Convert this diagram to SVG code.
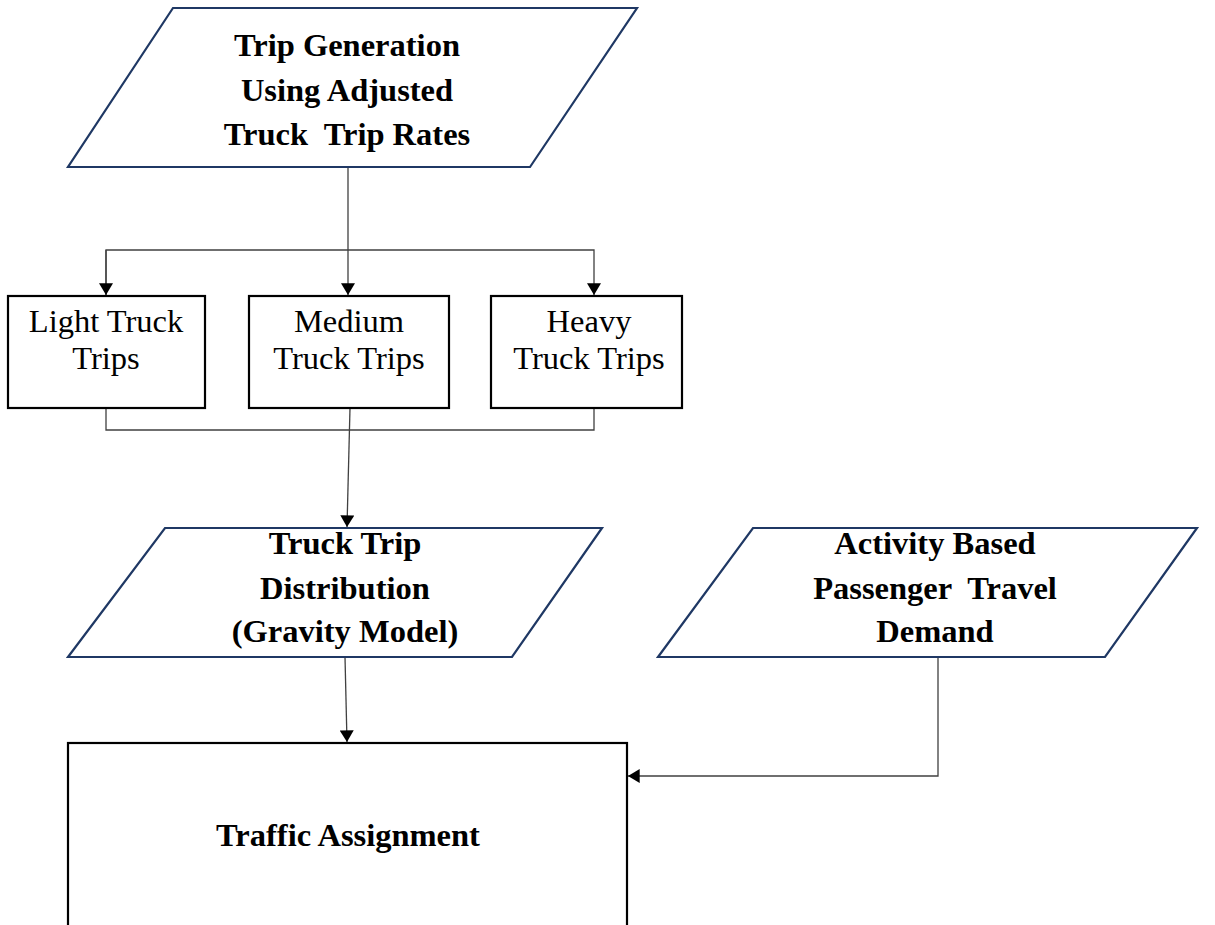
<svg xmlns="http://www.w3.org/2000/svg" width="1215" height="925" viewBox="0 0 1215 925">
  <defs>
    <marker id="arrow" viewBox="0 0 10 12" refX="10" refY="6" markerWidth="15" markerHeight="14" markerUnits="userSpaceOnUse" orient="auto">
      <path d="M0,0 L10,6 L0,12 Z" fill="#000"/>
    </marker>
  </defs>
  <style>
    .para { fill: #fff; stroke: #1f3864; stroke-width: 2.2; }
    .box { fill: #fff; stroke: #000; stroke-width: 2.2; }
    .bold { font-family: "Liberation Serif", "DejaVu Serif", serif; font-weight: bold; font-size: 32.5px; fill: #000; text-anchor: middle; }
    .reg { font-family: "Liberation Serif", "DejaVu Serif", serif; font-size: 32.5px; fill: #000; text-anchor: middle; }
    .conn { fill: none; stroke: #404040; stroke-width: 1.3; }
  </style>
  <rect width="1215" height="925" fill="#fff"/>

  <g id="connectors">
    <!-- trip generation fan-out -->
    <line class="conn" x1="348" y1="167" x2="348" y2="295" marker-end="url(#arrow)"/>
    <polyline class="conn" points="106,295 106,250 594,250 594,295" marker-end="url(#arrow)"/>
    <line class="conn" x1="106" y1="250" x2="106" y2="295" marker-end="url(#arrow)"/>
    <!-- truck class merge -->
    <polyline class="conn" points="106,408 106,430 594,430 594,408"/>
    <line class="conn" x1="350" y1="408" x2="347" y2="527" marker-end="url(#arrow)"/>
    <!-- distribution to assignment -->
    <line class="conn" x1="345" y1="657" x2="347" y2="742" marker-end="url(#arrow)"/>
    <!-- passenger demand to assignment -->
    <polyline class="conn" points="938,657 938,776 628,776" marker-end="url(#arrow)"/>
  </g>

  <g id="trip-generation">
    <polygon class="para" points="173,8 637,8 530,167 68,167"/>
    <text class="bold" x="347" y="56">Trip Generation</text>
    <text class="bold" x="347" y="101">Using Adjusted</text>
    <text class="bold" x="347" y="145" xml:space="preserve">Truck  Trip Rates</text>
  </g>

  <g id="light-truck">
    <rect class="box" x="8" y="296" width="197" height="112"/>
    <text class="reg" x="106" y="332">Light Truck</text>
    <text class="reg" x="106" y="369">Trips</text>
  </g>

  <g id="medium-truck">
    <rect class="box" x="249" y="296" width="200" height="112"/>
    <text class="reg" x="349" y="332">Medium</text>
    <text class="reg" x="349" y="369">Truck Trips</text>
  </g>

  <g id="heavy-truck">
    <rect class="box" x="491" y="296" width="191" height="112"/>
    <text class="reg" x="589" y="332">Heavy</text>
    <text class="reg" x="589" y="369">Truck Trips</text>
  </g>

  <g id="trip-distribution">
    <polygon class="para" points="165,528 602,528 512,657 68,657"/>
    <text class="bold" x="345" y="554">Truck Trip</text>
    <text class="bold" x="345" y="599">Distribution</text>
    <text class="bold" x="345" y="642">(Gravity Model)</text>
  </g>

  <g id="passenger-demand">
    <polygon class="para" points="753,528 1197,528 1105,657 658,657"/>
    <text class="bold" x="935" y="554">Activity Based</text>
    <text class="bold" x="935" y="599" xml:space="preserve">Passenger  Travel</text>
    <text class="bold" x="935" y="642">Demand</text>
  </g>

  <g id="traffic-assignment">
    <rect class="box" x="68" y="743" width="559" height="190"/>
    <text class="bold" x="348" y="846">Traffic Assignment</text>
  </g>
</svg>
